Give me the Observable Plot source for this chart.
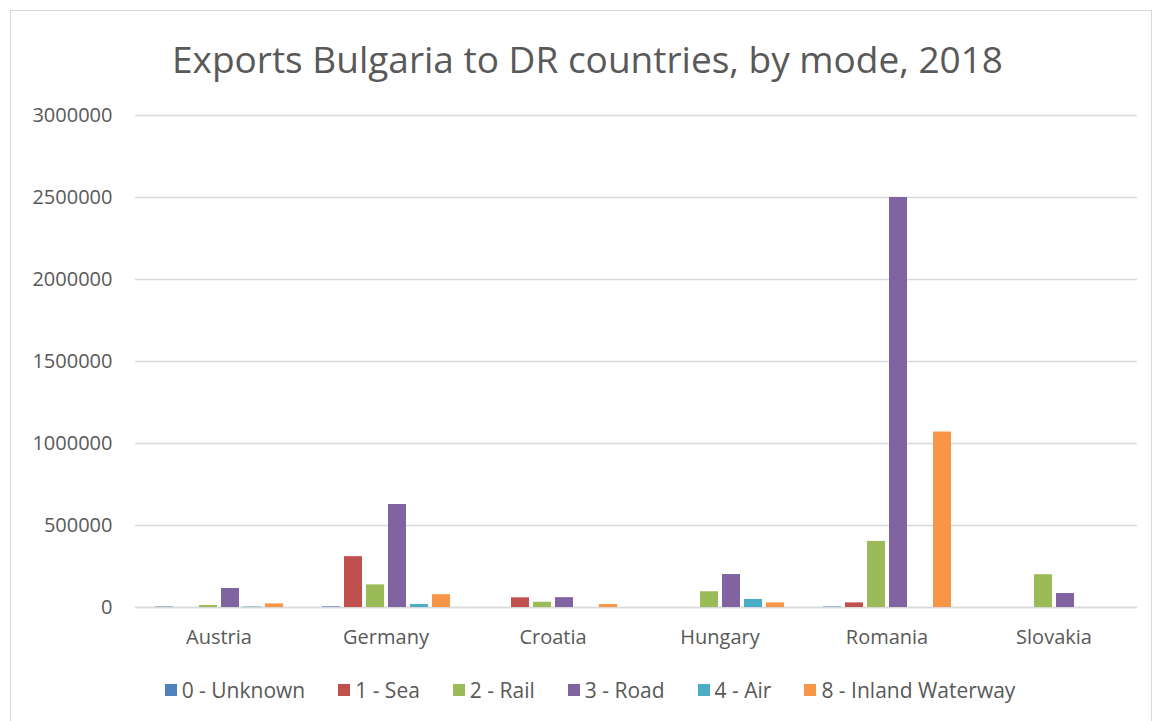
<!DOCTYPE html>
<html><head><meta charset="utf-8">
<script src="https://cdn.jsdelivr.net/npm/d3@7"></script>
<script src="https://cdn.jsdelivr.net/npm/@observablehq/plot@0.6"></script>
<style>
body{margin:0;background:#fff;font-family:"Open Sans",sans-serif;}
#wrap{position:relative;width:1152px;height:721px;overflow:hidden;background:#fff;}
#frame{position:absolute;left:10px;top:10px;width:1140px;height:740px;border:1px solid #d9d9d9;}
#title{position:absolute;left:0;top:33px;width:1175px;text-align:center;font-size:37px;color:#595959;white-space:nowrap;}
#chart{position:absolute;left:0;top:95px;}
#legend{position:absolute;left:0;top:676px;width:1180px;display:flex;justify-content:center;gap:33px;font-size:21px;color:#595959;}
#legend .item{display:flex;align-items:center;white-space:nowrap;}
#legend .sw{width:12px;height:12px;margin-right:5px;display:inline-block;}
</style></head>
<body>
<div id="wrap">
<div id="frame"></div>
<div id="title">Exports Bulgaria to DR countries, by mode, 2018</div>
<div id="chart"></div>
<div id="legend"></div>
</div>
<script>
const countries = ["Austria","Germany","Croatia","Hungary","Romania","Slovakia"];
const modes = ["0 - Unknown","1 - Sea","2 - Rail","3 - Road","4 - Air","8 - Inland Waterway"];
const unknownVals = [3000, 4000, 0, 0, 3000, 0];
const seaVals     = [0, 310000, 59000, 0, 28000, 0];
const railVals    = [12000, 138000, 32000, 96000, 403000, 200000];
const roadVals    = [116000, 628000, 60000, 201000, 2500000, 85000];
const airVals     = [3000, 18000, 0, 49000, 0, 0];
const inlandVals  = [22000, 78000, 18000, 28000, 1070000, 0];
const yTicks = [0, 500000, 1000000, 1500000, 2000000, 2500000, 3000000];
const colors = ["#4F81BD","#C0504D","#9BBB59","#8064A2","#4BACC6","#F79646"];

const series = [unknownVals, seaVals, railVals, roadVals, airVals, inlandVals];
const data = [];
countries.forEach((c, i) => {
  modes.forEach((m, j) => {
    data.push({country: c, mode: m, value: series[j][i]});
  });
});

const chart = Plot.plot({
  width: 1152,
  height: 557,
  marginLeft: 133,
  marginRight: 14,
  marginTop: 20,
  marginBottom: 45,
  style: {fontFamily: "Open Sans, sans-serif", fontSize: "20px", color: "#595959", background: "transparent"},
  fx: {domain: countries, padding: 0, label: null},
  x: {domain: modes, paddingInner: 0.19, paddingOuter: 0.85, axis: null},
  y: {domain: [0, 3000000], label: null},
  color: {domain: modes, range: colors},
  marks: [
    Plot.gridY(yTicks, {stroke: "#d9d9d9", strokeOpacity: 1, strokeWidth: 1.3}),
    Plot.axisY(yTicks, {tickSize: 0, tickPadding: 23, tickFormat: d3.format("d"), label: null, fill: "#595959"}),
    Plot.axisFx({anchor: "bottom", tickSize: 0, tickPadding: 22, label: null, fill: "#595959"}),
    Plot.ruleY([0], {stroke: "#d9d9d9", strokeWidth: 1.5}),
    Plot.barY(data, {fx: "country", x: "mode", y: "value", fill: "mode"})
  ]
});
document.getElementById("chart").appendChild(chart);

const legend = document.getElementById("legend");
modes.forEach((m, j) => {
  const it = document.createElement("div");
  it.className = "item";
  const sw = document.createElement("span");
  sw.className = "sw";
  sw.style.background = colors[j];
  it.appendChild(sw);
  it.appendChild(document.createTextNode(m));
  legend.appendChild(it);
});
</script>
</body></html>
